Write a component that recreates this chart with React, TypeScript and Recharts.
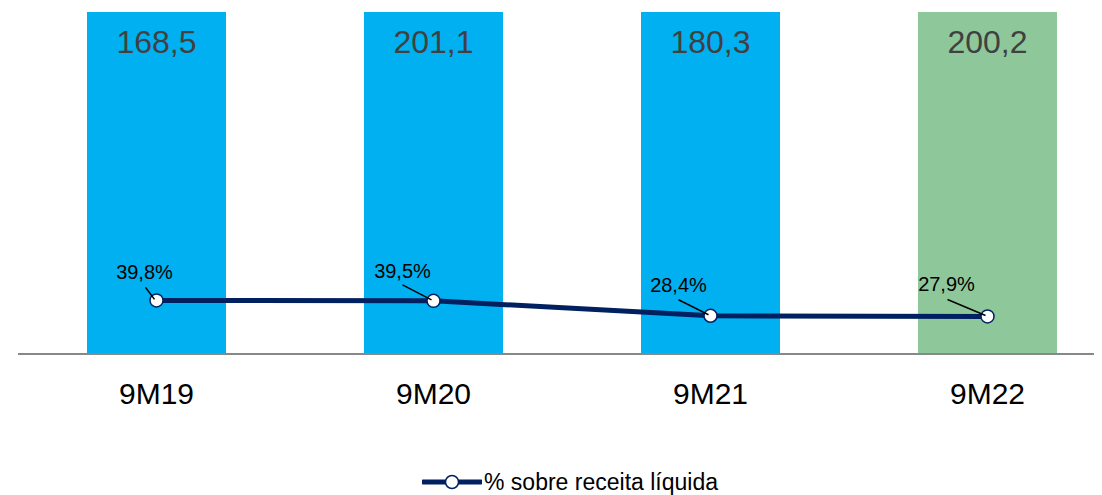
import {
  ComposedChart,
  Bar,
  Line,
  XAxis,
  YAxis,
  Cell,
  LabelList,
  Legend,
} from 'recharts';

const categories = ['9M19', '9M20', '9M21', '9M22'];
const valores = [168.5, 201.1, 180.3, 200.2];
const percentuais = [39.8, 39.5, 28.4, 27.9];
const barColors = ['#00B0F0', '#00B0F0', '#00B0F0', '#8EC89A'];
const yTicks = [0, 20, 40, 60, 80, 100, 120, 140];

const LEGEND_NAME = '% sobre receita líquida';
const NAVY = '#002060';
const FONT = '"Liberation Sans", Arial, sans-serif';
const PLOT_TOP = 12;

// label placement relative to each line point: text centre / baseline, leader start
const pctLabelPos = [
  { dx: -12, dy: -21, lx: -11, ly: -13 },
  { dx: -31, dy: -23, lx: -31, ly: -16 },
  { dx: -32, dy: -24, lx: -32, ly: -16 },
  { dx: -41, dy: -25, lx: -40, ly: -17 },
];

const fmt = (v: number, digits = 1) => v.toFixed(digits).replace('.', ',');

const chartData = categories.map((c, i) => ({
  name: c,
  valor: valores[i],
  pct: percentuais[i],
}));

function BarValueLabel(props: any) {
  const { x, y, width, value } = props;
  const top = Math.max(Number(y), PLOT_TOP);
  return (
    <text
      x={Number(x) + Number(width) / 2}
      y={top + 41}
      textAnchor="middle"
      fontSize={32}
      fill="#404040"
      fontFamily={FONT}
    >
      {fmt(Number(value))}
    </text>
  );
}

function PctLabel(props: any) {
  const { x, y, value, index } = props;
  const p = pctLabelPos[index] ?? pctLabelPos[0];
  const px = Number(x);
  const py = Number(y);
  return (
    <g>
      <line x1={px + p.lx} y1={py + p.ly} x2={px - 2} y2={py - 1} stroke="#000" strokeWidth={1.5} />
      <text x={px + p.dx} y={py + p.dy} textAnchor="middle" fontSize={20} fill="#000" fontFamily={FONT}>
        {fmt(Number(value))}%
      </text>
    </g>
  );
}

function LegendContent() {
  return (
    <div
      style={{
        display: 'flex',
        justifyContent: 'center',
        alignItems: 'center',
        fontFamily: FONT,
        fontSize: 23,
        lineHeight: '24px',
        color: '#000',
      }}
    >
      <svg width={60} height={20} style={{ marginRight: 2, display: 'block' }}>
        <line x1={1} y1={10} x2={59} y2={10} stroke={NAVY} strokeWidth={5} strokeLinecap="round" />
        <circle cx={30} cy={10} r={6.5} fill="#fff" stroke={NAVY} strokeWidth={1.5} />
      </svg>
      <span>{LEGEND_NAME}</span>
    </div>
  );
}

export default function App() {
  return (
    <div style={{ margin: '-8px 0 0 -8px', width: 1102, height: 495, overflow: 'hidden', background: '#fff' }}>
      <ComposedChart
        width={1140}
        height={495}
        data={chartData}
        margin={{ top: PLOT_TOP, right: 14, left: 0, bottom: 0 }}
        barCategoryGap={69}
        style={{ fontFamily: FONT }}
      >
        <XAxis
          dataKey="name"
          height={141}
          tickSize={0}
          tickMargin={29}
          tickLine={false}
          axisLine={{ stroke: '#888888', strokeWidth: 2 }}
          tick={{ fontSize: 30, fill: '#000', fontFamily: FONT }}
        />
        <YAxis
          yAxisId="valor"
          width={18}
          domain={[0, 140]}
          ticks={yTicks}
          allowDataOverflow
          axisLine={false}
          tickSize={4}
          tickLine={{ stroke: '#d9d9d9' }}
          tick={false}
        />
        <YAxis yAxisId="pct" orientation="right" hide domain={[0, 254]} />
        <Legend
          layout="horizontal"
          verticalAlign="middle"
          align="center"
          wrapperStyle={{ top: 470, left: 0, width: 1140, height: 24 }}
          content={<LegendContent />}
        />
        <Bar yAxisId="valor" dataKey="valor" barSize={139} isAnimationActive={false}>
          {chartData.map((_, i) => (
            <Cell key={i} fill={barColors[i]} />
          ))}
          <LabelList dataKey="valor" content={<BarValueLabel />} />
        </Bar>
        <Line
          yAxisId="pct"
          type="linear"
          dataKey="pct"
          name={LEGEND_NAME}
          stroke={NAVY}
          strokeWidth={5}
          dot={{ r: 6.5, fill: '#fff', stroke: NAVY, strokeWidth: 1.5 }}
          activeDot={false}
          isAnimationActive={false}
        >
          <LabelList dataKey="pct" content={<PctLabel />} />
        </Line>
      </ComposedChart>
    </div>
  );
}
